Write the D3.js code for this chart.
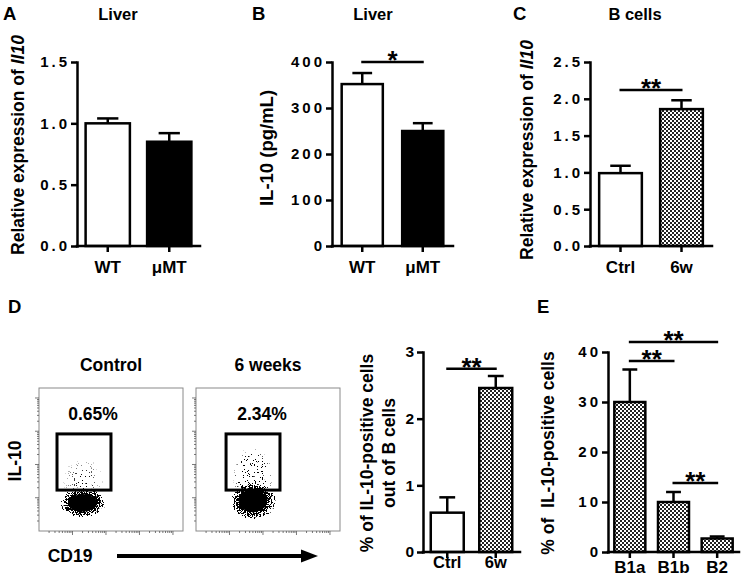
<!DOCTYPE html>
<html><head><meta charset="utf-8">
<script src="https://cdn.jsdelivr.net/npm/d3@7/dist/d3.min.js"></script>
<style>
body{margin:0;background:#fff}
svg{display:block}
text{font-family:"Liberation Sans",Arial,sans-serif;font-weight:bold;fill:#000}
</style></head>
<body><svg id="c" width="744" height="577"></svg>
<script>
// ---------------- DATA ----------------
const aCategories = ["WT", "\u03bcMT"];
const aValues = [1.00, 0.85];
const aErrors = [0.04, 0.07];
const aTicks = [0, 0.5, 1.0, 1.5];

const bCategories = ["WT", "\u03bcMT"];
const bValues = [352, 250];
const bErrors = [24, 17];
const bTicks = [0, 100, 200, 300, 400];
const bSig = [{from: 0, to: 1, level: 400, label: "*"}];

const cCategories = ["Ctrl", "6w"];
const cValues = [0.99, 1.86];
const cErrors = [0.10, 0.12];
const cTicks = [0, 0.5, 1.0, 1.5, 2.0, 2.5];
const cSig = [{from: 0, to: 1, level: 2.12, label: "**"}];

const dCategories = ["Ctrl", "6w"];
const dValues = [0.59, 2.46];
const dErrors = [0.23, 0.18];
const dTicks = [0, 1, 2, 3];
const dSig = [{from: 0, to: 1, level: 2.75, label: "**"}];

const eCategories = ["B1a", "B1b", "B2"];
const eValues = [30.0, 10.0, 2.7];
const eErrors = [6.5, 2.0, 0.4];
const eTicks = [0, 10, 20, 30, 40];
const eSig = [
  {from: 0, to: 2, level: 42, label: "**"},
  {from: 0, to: 1, level: 38.2, label: "**"},
  {from: 1, to: 2, level: 13.8, label: "**"}
];

// flow cytometry plots (values in fluorescence units, log axes)
const flowTitles = ["Control", "6 weeks"];
const flowPercents = ["0.65%", "2.34%"];
const flowGates = [[3.45, 141, 17, 830], [7.9, 322, 17, 830]];            // xMin, xMax, yMin, yMax
const flowCores = [[20.6, 7.0, 0.68, 0.44], [50, 8.0, 0.68, 0.56]];       // cx, cy, spread x (decades), spread y (decades)
const flowSparse = [[20.6, 30, 0.62, 0.75, 0.035], [50, 40, 0.62, 0.95, 0.09]]; // cx, cy, sx, sy, density

// ---------------- SETUP ----------------
const svg = d3.select("#c");
svg.append("rect").attr("width", 744).attr("height", 577).attr("fill", "#fff");
const defs = svg.append("defs");
const pat = defs.append("pattern").attr("id", "checker").attr("width", 4).attr("height", 4)
  .attr("patternUnits", "userSpaceOnUse");
pat.append("rect").attr("width", 4).attr("height", 4).attr("fill", "#fff");
pat.append("rect").attr("width", 2).attr("height", 2).attr("fill", "#222");
pat.append("rect").attr("x", 2).attr("y", 2).attr("width", 2).attr("height", 2).attr("fill", "#222");

const flt = defs.append("filter").attr("id", "stip").attr("filterUnits", "userSpaceOnUse")
  .attr("x", 0).attr("y", 0).attr("width", 744).attr("height", 577)
  .attr("color-interpolation-filters", "sRGB");
flt.append("feTurbulence").attr("type", "fractalNoise").attr("baseFrequency", 1.1)
  .attr("numOctaves", 3).attr("seed", 23).attr("result", "t");
flt.append("feColorMatrix").attr("in", "t").attr("type", "matrix")
  .attr("values", "0 0 0 0 0  0 0 0 0 0  0 0 0 0 0  0 0 0 2.6 -0.8").attr("result", "n");
flt.append("feComposite").attr("in", "SourceAlpha").attr("in2", "n").attr("operator", "arithmetic")
  .attr("k1", 0).attr("k2", 1).attr("k3", -1).attr("k4", 0).attr("result", "d");
const ct = flt.append("feComponentTransfer").attr("in", "d");
ct.append("feFuncA").attr("type", "linear").attr("slope", 40).attr("intercept", 0);

function txt(g, x, y, s, size, anchor) {
  return g.append("text").attr("x", x).attr("y", y).attr("font-size", size)
    .attr("text-anchor", anchor || "middle").text(s);
}
function vlabel(g, x, y, size, parts) {
  const t = g.append("text").attr("transform", `translate(${x},${y}) rotate(-90)`)
    .attr("font-size", size).attr("text-anchor", "middle");
  parts.forEach(p => t.append("tspan").attr("font-style", p.italic ? "italic" : "normal").text(p.s));
  return t;
}

function barPanel(o) {
  const g = svg.append("g");
  const x = d3.scaleBand().domain(o.cats).range([o.x0, o.x1]).paddingInner(o.pad).paddingOuter(o.pad / 2);
  const y = d3.scaleLinear().domain([0, o.max]).range([o.yb, o.yt]);
  const fill = f => f === "checker" ? "url(#checker)" : f;
  g.selectAll("rect.bar").data(o.cats).join("rect").attr("class", "bar")
    .attr("x", d => x(d)).attr("width", x.bandwidth())
    .attr("y", (d, i) => y(o.vals[i])).attr("height", (d, i) => y(0) - y(o.vals[i]))
    .attr("fill", (d, i) => fill(o.fills[i])).attr("stroke", "#000").attr("stroke-width", 2.5);
  const cw = x.bandwidth() * 0.24;
  o.cats.forEach((d, i) => {
    const cx = x(d) + x.bandwidth() / 2, top = y(o.vals[i] + o.errs[i]);
    g.append("line").attr("x1", cx).attr("x2", cx).attr("y1", y(o.vals[i])).attr("y2", top)
      .attr("stroke", "#000").attr("stroke-width", 2.5);
    g.append("line").attr("x1", cx - cw).attr("x2", cx + cw).attr("y1", top).attr("y2", top)
      .attr("stroke", "#000").attr("stroke-width", 2.5);
  });
  const ya = g.append("g").attr("transform", `translate(${o.x0},0)`)
    .call(d3.axisLeft(y).tickValues(o.ticks).tickSize(6).tickSizeOuter(0).tickPadding(o.tp).tickFormat(o.fmt));
  ya.attr("font-family", null).attr("font-size", null);
  ya.select(".domain").attr("stroke-width", 2.5).attr("stroke-linecap", "square");
  ya.selectAll(".tick line").attr("stroke-width", 2.5);
  ya.selectAll(".tick text").attr("font-size", o.tickSize)
    .style("letter-spacing", o.ls + "px").attr("fill", "#000");
  const xa = g.append("g").attr("transform", `translate(0,${o.yb})`)
    .call(d3.axisBottom(x).tickSize(6).tickSizeOuter(0).tickFormat(""));
  xa.select(".domain").attr("stroke-width", 2.5).attr("stroke-linecap", "square")
    .attr("d", `M${o.x0},0H${o.x1}`);
  xa.selectAll(".tick line").attr("stroke-width", 2.5);
  o.cats.forEach(d => txt(g, x(d) + x.bandwidth() / 2, o.labY, d, o.catSize));
  (o.sig || []).forEach(s => {
    const x1 = x(o.cats[s.from]) + x.bandwidth() / 2 - 1, x2 = x(o.cats[s.to]) + x.bandwidth() / 2 + 1;
    g.append("line").attr("x1", x1).attr("x2", x2).attr("y1", y(s.level)).attr("y2", y(s.level))
      .attr("stroke", "#000").attr("stroke-width", 2.5);
    txt(g, (x1 + x2) / 2, y(s.level) + 7, s.label, 26);
  });
  return {x, y, g};
}

const f1 = d3.format(".1f");
barPanel({cats: aCategories, vals: aValues, errs: aErrors, ticks: aTicks, fmt: f1, max: 1.5,
  x0: 77, x1: 200, yt: 62, yb: 246, pad: 0.28, fills: ["#fff", "#000"], labY: 273, catSize: 17,
  tickSize: 15, ls: 3, tp: 1});
barPanel({cats: bCategories, vals: bValues, errs: bErrors, ticks: bTicks, fmt: d3.format("d"), max: 400,
  x0: 332, x1: 453, yt: 62, yb: 246, pad: 0.32, fills: ["#fff", "#000"], labY: 273, catSize: 17,
  tickSize: 15, ls: 3, tp: 1, sig: bSig});
barPanel({cats: cCategories, vals: cValues, errs: cErrors, ticks: cTicks, fmt: f1, max: 2.5,
  x0: 590, x1: 712, yt: 62, yb: 246, pad: 0.3, fills: ["#fff", "checker"], labY: 273, catSize: 17,
  tickSize: 15, ls: 3, tp: 1, sig: cSig});
barPanel({cats: dCategories, vals: dValues, errs: dErrors, ticks: dTicks, fmt: d3.format("d"), max: 3,
  x0: 423, x1: 520, yt: 352, yb: 552, pad: 0.32, fills: ["#fff", "checker"], labY: 568, catSize: 16.5,
  tickSize: 15.5, ls: 0, tp: 3, sig: dSig});
barPanel({cats: eCategories, vals: eValues, errs: eErrors, ticks: eTicks, fmt: d3.format("d"), max: 40,
  x0: 608, x1: 739, yt: 352, yb: 552, pad: 0.29, fills: ["checker", "checker", "checker"], labY: 573, catSize: 17,
  tickSize: 15, ls: 3, tp: 1, sig: eSig});

const lab = svg.append("g");
[["A", 3, 20], ["B", 252, 20], ["C", 513, 20], ["D", 8, 313], ["E", 537, 313]]
  .forEach(p => txt(lab, p[1], p[2], p[0], 18.5, "start"));
txt(lab, 118, 20, "Liver", 16.5);
txt(lab, 373, 20, "Liver", 16.5);
txt(lab, 635, 20, "B cells", 16.5);
vlabel(lab, 24, 145, 17.5, [{s: "Relative expression of "}, {s: "Il10", italic: true}]);
vlabel(lab, 273, 148, 18.5, [{s: "IL-10 (pg/mL)"}]);
vlabel(lab, 533, 150, 17.5, [{s: "Relative expression of "}, {s: "Il10", italic: true}]);
vlabel(lab, 373, 453, 17.5, [{s: "% of IL-10-positive cells"}]);
vlabel(lab, 395, 453, 17.5, [{s: "out of B cells"}]);
vlabel(lab, 554, 453, 17.5, [{s: "% of\u00a0 IL-10-positive cells"}]);

// ---------------- FLOW PLOTS ----------------
const flowBoxes = [39, 196];
flowTitles.forEach((title, k) => {
  const bx = flowBoxes[k], by = 388, bw = 144, bh = 143;
  const g = svg.append("g");
  const fx = d3.scaleLog().domain([1, Math.pow(10, 4.3)]).range([bx, bx + bw]);
  const fy = d3.scaleLog().domain([1, Math.pow(10, 4.3)]).range([by + bh, by]);
  const clipId = "clip" + k;
  defs.append("clipPath").attr("id", clipId).append("rect")
    .attr("x", bx).attr("y", by).attr("width", bw).attr("height", bh);
  const clipped = g.append("g").attr("clip-path", `url(#${clipId})`);
  const cg = clipped.append("g").attr("filter", "url(#stip)");
  const core = flowCores[k], sp = flowSparse[k];
  const gid = "rg" + k, sid = "sg" + k;
  const rg = defs.append("radialGradient").attr("id", gid);
  rg.append("stop").attr("offset", 0).attr("stop-color", "#000").attr("stop-opacity", 1);
  rg.append("stop").attr("offset", 0.6).attr("stop-color", "#000").attr("stop-opacity", 0.9);
  rg.append("stop").attr("offset", 0.82).attr("stop-color", "#000").attr("stop-opacity", 0.45);
  rg.append("stop").attr("offset", 1).attr("stop-color", "#000").attr("stop-opacity", 0);
  const sg = defs.append("radialGradient").attr("id", sid);
  sg.append("stop").attr("offset", 0).attr("stop-color", "#000").attr("stop-opacity", sp[4]);
  sg.append("stop").attr("offset", 1).attr("stop-color", "#000").attr("stop-opacity", 0);
  const crx = fx(core[0] * Math.pow(10, core[2])) - fx(core[0]);
  const cry = fy(core[1]) - fy(core[1] * Math.pow(10, core[3]));
  cg.append("ellipse").attr("cx", fx(sp[0])).attr("cy", fy(sp[1]))
    .attr("rx", fx(sp[0] * Math.pow(10, sp[2])) - fx(sp[0])).attr("ry", fy(sp[1]) - fy(sp[1] * Math.pow(10, sp[3])))
    .attr("fill", `url(#${sid})`);
  cg.append("ellipse").attr("cx", fx(core[0])).attr("cy", fy(core[1]))
    .attr("rx", crx).attr("ry", cry).attr("fill", `url(#${gid})`);
  // dense centre of the population
  clipped.append("ellipse").attr("cx", fx(core[0])).attr("cy", fy(core[1]))
    .attr("rx", crx * 0.62).attr("ry", cry * 0.6).attr("fill", "#000");
  g.append("rect").attr("x", bx).attr("y", by).attr("width", bw).attr("height", bh)
    .attr("fill", "none").attr("stroke", "#8a8a8a").attr("stroke-width", 1);
  const lt = fx.ticks().filter(v => v > 1 && v < Math.pow(10, 4.3));
  const isMajor = v => Math.abs(Math.log10(v) - Math.round(Math.log10(v))) < 1e-6;
  g.selectAll("line.tx").data(lt).join("line").attr("x1", d => fx(d)).attr("x2", d => fx(d))
    .attr("y1", by + bh).attr("y2", d => by + bh + (isMajor(d) ? 4 : 2)).attr("stroke", "#555").attr("stroke-width", 0.8);
  g.selectAll("line.ty").data(lt).join("line").attr("y1", d => fy(d)).attr("y2", d => fy(d))
    .attr("x1", bx).attr("x2", d => bx - (isMajor(d) ? 4 : 2)).attr("stroke", "#555").attr("stroke-width", 0.8);
  const gt = flowGates[k];
  g.append("rect").attr("x", fx(gt[0])).attr("y", fy(gt[3])).attr("width", fx(gt[1]) - fx(gt[0]))
    .attr("height", fy(gt[2]) - fy(gt[3])).attr("fill", "none").attr("stroke", "#000").attr("stroke-width", 3);
  txt(g, bx + bw / 2, 371, title, 17.5);
  txt(g, fx(gt[0]) + 36, 420, flowPercents[k], 17.5);
});
vlabel(lab, 21, 461, 17.5, [{s: "IL-10"}]);
txt(lab, 70, 562, "CD19", 17.5);
lab.append("line").attr("x1", 117).attr("x2", 303).attr("y1", 556).attr("y2", 556)
  .attr("stroke", "#000").attr("stroke-width", 4);
lab.append("path").attr("d", "M301,549.5L318,556L301,562.5Z").attr("fill", "#000");
</script></body></html>
